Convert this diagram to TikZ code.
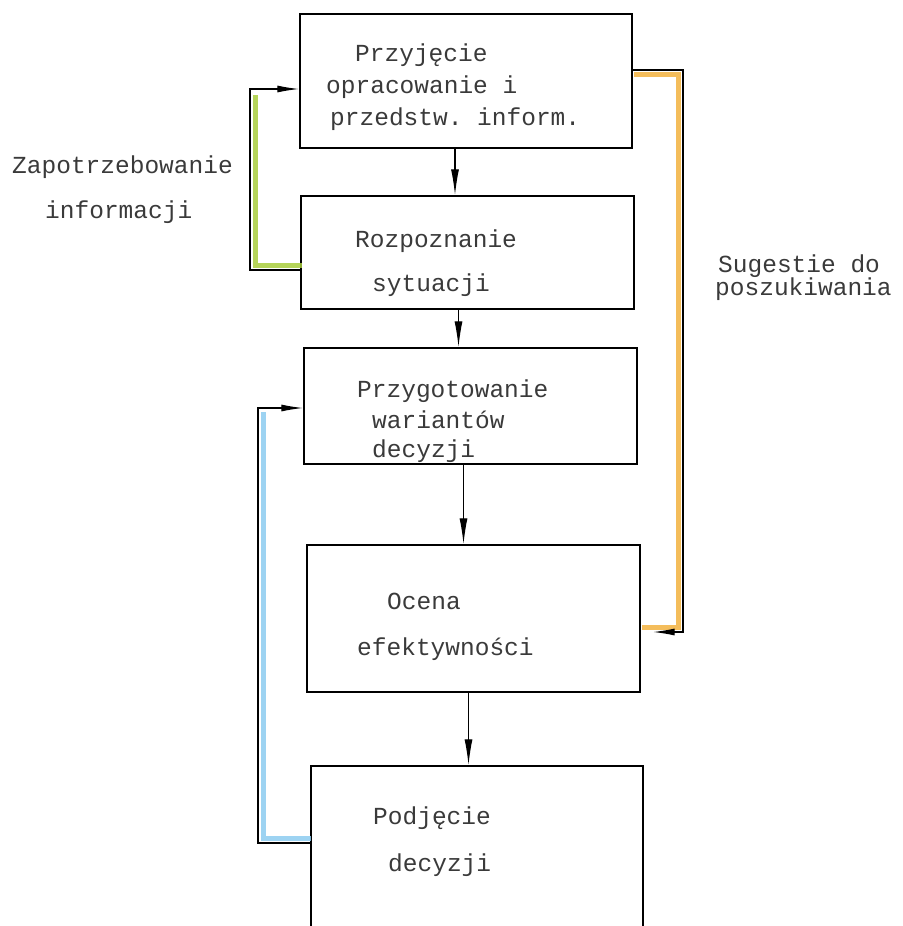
\documentclass[tikz,border=0pt]{standalone}
\usepackage{fontspec}
\setmonofont{Liberation Mono}
\usepackage{tikz}
\usetikzlibrary{arrows.meta,positioning}
\usepackage{xcolor}
\definecolor{inkgray}{HTML}{3A3A3A}
\definecolor{markgreen}{HTML}{A8CC3C}
\definecolor{markorange}{HTML}{F2B23E}
\definecolor{markblue}{HTML}{8CCBF0}

\begin{document}
\begin{tikzpicture}[x=1pt, y=-1pt,
    box/.style={draw, line width=1.4pt, inner sep=0pt},
    txt/.style={anchor=base west, inner sep=0pt, text=inkgray,
                font=\ttfamily\fontsize{24.5}{28}\selectfont},
    arr/.style={-{Latex[length=26pt,width=8pt]}, line width=1.3pt},
    feed/.style={line width=1.3pt, -{Latex[length=22pt,width=7pt]}},
    marker/.style={line width=5pt, opacity=0.85}]
    \path[use as bounding box, clip] (0,0) rectangle (902,926);

    % Blocks of the decision process
    \node[box, minimum width=332pt, minimum height=134pt] (b1) at (466,81) {};
    \node[box, minimum width=333pt, minimum height=113pt] (b2) at (467.5,252.5) {};
    \node[box, minimum width=333pt, minimum height=116pt] (b3) at (470.5,406) {};
    \node[box, minimum width=333pt, minimum height=147pt] (b4) at (473.5,618.5) {};
    \node[box, minimum width=332pt, minimum height=224pt] (b5) at (477,878) {};

    % Texts in the blocks
    \node[txt] (t1a) at (355,61) {Przyjęcie};
    \node[txt] (t1b) at (326,93) {opracowanie i};
    \node[txt] (t1c) at (330,125) {przedstw. inform.};
    \node[txt] (t2a) at (355,247) {Rozpoznanie};
    \node[txt] (t2b) at (372,291) {sytuacji};
    \node[txt] (t3a) at (357,397) {Przygotowanie};
    \node[txt] (t3b) at (372,428) {wariantów};
    \node[txt] (t3c) at (372,457) {decyzji};
    \node[txt] (t4a) at (387,609) {Ocena};
    \node[txt] (t4b) at (357,655) {efektywności};
    \node[txt] (t5a) at (373,824) {Podjęcie};
    \node[txt] (t5b) at (388,871) {decyzji};

    % Side labels
    \node[txt] (lzap) at (12,173) {Zapotrzebowanie};
    \node[txt] (linf) at (45,218) {informacji};
    \node[txt] (lsug) at (718,272) {Sugestie do};
    \node[txt] (lpos) at (715,295) {poszukiwania};

    % Main flow
    \draw[arr] ([xshift=-11pt]b1.south) -- ([xshift=-11pt]b1.south |- b2.north);
    \draw[arr] ([xshift=-9pt]b2.south) -- ([xshift=-9pt]b2.south |- b3.north);
    \draw[arr] ([xshift=-7pt]b3.south) -- ([xshift=-7pt]b3.south |- b4.north);
    \draw[arr] ([xshift=-5pt]b4.south) -- ([xshift=-5pt]b4.south |- b5.north);

    % Feedback loops (coloured marker under the ink)
    \coordinate (gtop) at (250,89);
    \coordinate (gbot) at (250,270);
    \coordinate (otop) at (683,70);
    \coordinate (obot) at (683,632);
    \coordinate (btop) at (258,408);
    \coordinate (bbot) at (258,843);

    \draw[marker, markgreen] (255,95) -- (255,265) -- (302,265);
    \draw[marker, markorange] (634,74) -- (678,74) -- (678,627) -- (642,627);
    \draw[marker, markblue] (263,412) -- (263,838) -- (311,838);

    \draw[feed] (b2.west |- gbot) -- (gbot) -- (gtop) -- (b1.west |- gtop);
    \draw[feed, shorten >=12pt] (b1.east |- otop) -- (otop) -- (obot) -- (b4.east |- obot);
    \draw[feed] (b5.west |- bbot) -- (bbot) -- (btop) -- (b3.west |- btop);
\end{tikzpicture}
\end{document}
